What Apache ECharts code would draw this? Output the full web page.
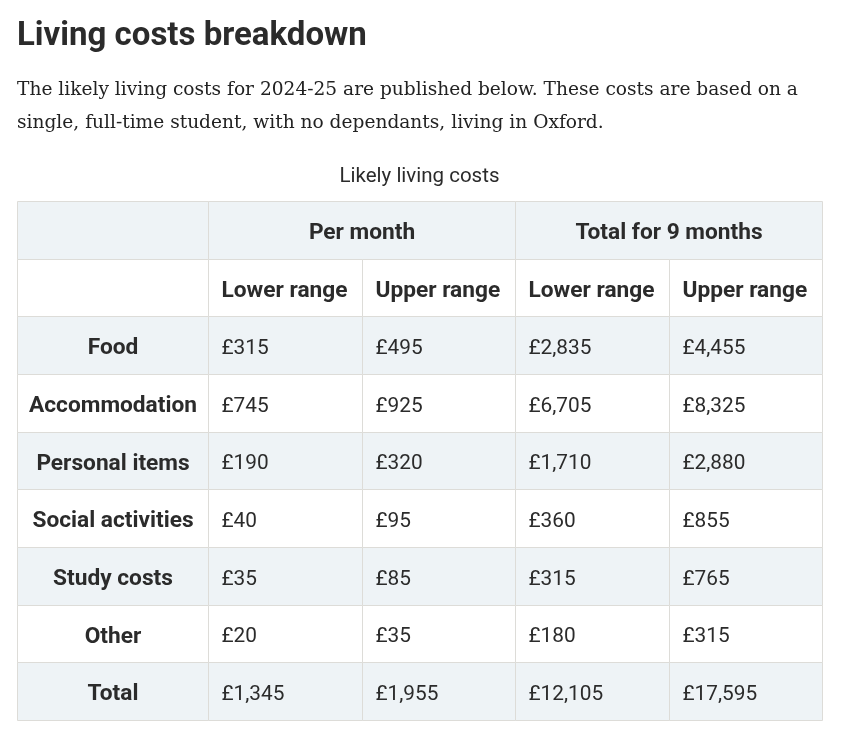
<!DOCTYPE html>
<html>
<head>
<meta charset="utf-8">
<title>Living costs breakdown</title>
<script src="https://cdn.jsdelivr.net/npm/echarts@6.0.0/dist/echarts.min.js"></script>
<style>
  html, body { margin: 0; padding: 0; background: #fff; }
  #chart { width: 850px; height: 733px; }
</style>
</head>
<body>
<div id="chart"></div>
<script>
  // table content
  const categories = ['Food', 'Accommodation', 'Personal items', 'Social activities', 'Study costs', 'Other', 'Total']
  const groupHeaders = ['Per month', 'Total for 9 months']
  const rangeHeaders = ['Lower range', 'Upper range']
  const monthLower = [315, 745, 190, 40, 35, 20, 1345]
  const monthUpper = [495, 925, 320, 95, 85, 35, 1955]
  const nineLower = [2835, 6705, 1710, 360, 315, 180, 12105]
  const nineUpper = [4455, 8325, 2880, 855, 765, 315, 17595]

  // layout: first column a bit wider than the value columns
  const colWeights = [1.245, 1, 1, 1, 1]
  const colEdges = [0]
  colWeights.forEach(w => colEdges.push(colEdges[colEdges.length - 1] + w))

  const textColor = '#2b2b2b'
  const shade = '#eef3f6'
  const border = '#dddcd8'

  const money = v => '£' + v.toLocaleString('en-GB')

  // every cell of the table: [firstCol, lastCol + 1, row, text, kind]
  const cells = []
  cells.push([0, 1, 0, '', 'corner'])
  cells.push([1, 3, 0, groupHeaders[0], 'group'])
  cells.push([3, 5, 0, groupHeaders[1], 'group'])
  cells.push([0, 1, 1, '', 'corner'])
  for (let i = 0; i < 4; i++) {
    cells.push([i + 1, i + 2, 1, rangeHeaders[i % 2], 'sub'])
  }
  const valueCols = [monthLower, monthUpper, nineLower, nineUpper]
  categories.forEach((name, i) => {
    cells.push([0, 1, i + 2, name, 'rowhead'])
    valueCols.forEach((col, j) => {
      cells.push([j + 1, j + 2, i + 2, money(col[i]), 'value'])
    })
  })
  const rowCount = categories.length + 2

  function renderCell(params, api) {
    const cell = cells[params.dataIndex]
    const p0 = api.coord([api.value(0), api.value(2)])
    const p1 = api.coord([api.value(1), api.value(3)])
    const x0 = Math.round(p0[0]) + 0.5
    const y0 = Math.round(p0[1]) + 0.5
    const x1 = Math.round(p1[0]) + 0.5
    const y1 = Math.round(p1[1]) + 0.5
    const row = cell[2]
    const kind = cell[4]
    const bold = kind !== 'value'
    const centered = kind === 'group' || kind === 'rowhead'
    return {
      type: 'group',
      children: [{
        type: 'rect',
        shape: { x: x0, y: y0, width: x1 - x0, height: y1 - y0 },
        style: { fill: row % 2 === 0 ? shade : '#fff', stroke: border, lineWidth: 1 }
      }, {
        type: 'text',
        x: centered ? (x0 + x1) / 2 : x0 + 13,
        y: (y0 + y1) / 2 + 3,
        style: {
          text: cell[3],
          fill: textColor,
          fontFamily: 'Roboto',
          fontWeight: bold ? 'bold' : 'normal',
          fontSize: bold ? 22.7 : 20.8,
          align: centered ? 'center' : 'left',
          verticalAlign: 'middle'
        }
      }]
    }
  }

  const chart = echarts.init(document.getElementById('chart'))
  chart.setOption({
    animation: false,
    backgroundColor: '#fff',
    title: [{
      text: 'Living costs breakdown',
      left: 17,
      top: 20,
      padding: 0,
      textStyle: { fontFamily: 'Roboto', fontWeight: 'bold', fontSize: 33, color: textColor }
    }, {
      text: 'The likely living costs for 2024-25 are published below. These costs are based on a\nsingle, full-time student, with no dependants, living in Oxford.',
      left: 17,
      top: 73.5,
      padding: 0,
      textStyle: { fontFamily: 'DejaVu Serif', fontWeight: 'normal', fontSize: 18.6, lineHeight: 33, color: '#222' }
    }, {
      text: 'Likely living costs',
      left: 419.5,
      textAlign: 'center',
      top: 166,
      padding: 0,
      textStyle: { fontFamily: 'Roboto', fontWeight: 'normal', fontSize: 20.5, color: textColor }
    }],
    grid: { left: 17, right: 28, top: 201, bottom: 13 },
    xAxis: { type: 'value', min: 0, max: colEdges[colEdges.length - 1], show: false },
    yAxis: { type: 'value', min: 0, max: rowCount, inverse: true, show: false },
    series: [{
      type: 'custom',
      renderItem: renderCell,
      data: cells.map(c => [colEdges[c[0]], colEdges[c[1]], c[2], c[2] + 1]),
      silent: true
    }]
  })
</script>
</body>
</html>
